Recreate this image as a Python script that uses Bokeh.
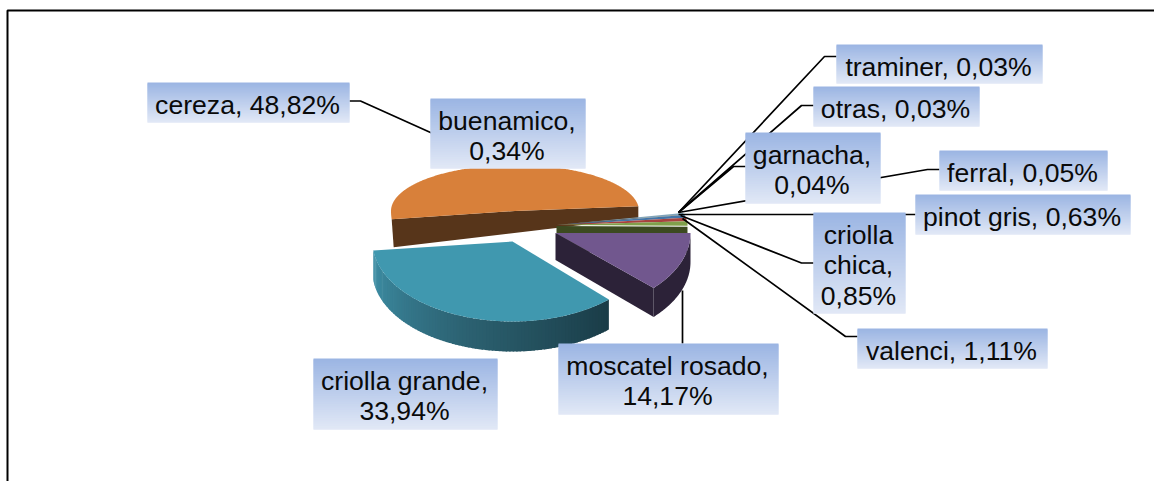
import numpy as np
from bokeh.plotting import figure
from bokeh.models import Range1d
from bokeh.core.properties import value
from bokeh.embed import file_html
from bokeh.resources import INLINE

# ---- data, clockwise from the big orange slice
names = ["cereza", "buenamico", "traminer", "otras", "garnacha", "ferral",
         "pinot gris", "criolla chica", "valenci", "moscatel rosado", "criolla grande"]
shares = [48.82, 0.34, 0.03, 0.03, 0.04, 0.05, 0.63, 0.85, 1.11, 14.17, 33.94]
top_colors = ["#D8803A", "#7FA4BC", "#7E3A38", "#6C8A3E", "#54426E", "#2F7285",
              "#4376A8", "#A8423F", "#80A04B", "#71578E", "#4098AF"]

# ---- layout of the perspective pie: name -> centre, radii, start angle, angular stretch
groups = [
    dict(members=["cereza"], cx=514.5, cy=210.5, rx=124, ryf=80, ryb=46, t0=174, k=1.024),
    dict(members=["buenamico", "traminer", "otras", "garnacha", "ferral", "pinot gris",
                  "criolla chica", "valenci"], cx=556, cy=224.5, rx=131, ryf=46, ryb=46, t0=345, k=1.45),
    dict(members=["moscatel rosado"], cx=555, cy=232.5, rx=135, ryf=80, ryb=46, t0=0, k=0.85),
    dict(members=["criolla grande"], cx=512, cy=241, rx=140, ryf=80, ryb=46, t0=46.5, k=1.04),
]

# ---- label boxes: left, right, top, bottom, lines
boxes = {
    "cereza": (147, 349, 82, 122, 1),
    "buenamico": (430, 585, 98, 168, 2),
    "traminer": (836, 1042, 44, 83, 1),
    "otras": (813, 979, 86, 126, 1),
    "garnacha": (745, 880, 132, 203, 2),
    "ferral": (939, 1107, 150, 190, 1),
    "pinot gris": (915, 1130, 194, 234, 1),
    "criolla chica": (813, 905, 212, 313, 3),
    "valenci": (857, 1047, 328, 368, 1),
    "moscatel rosado": (558, 778, 343, 414, 2),
    "criolla grande": (313, 497, 358, 429, 2),
}
line_breaks = {"criolla chica": ["criolla", "chica,"]}

leaders = [
    [(349, 100.5), (360, 100.5), (430, 132), (500, 164)],
    [(836, 56), (824, 56), (678, 212)],
    [(813, 105), (801, 105), (678, 212)],
    [(745, 166), (733, 166), (678, 212)],
    [(939, 169), (927, 169), (678, 212)],
    [(915, 214), (905, 214), (678, 214)],
    [(813, 262.5), (801, 262.5), (680, 215)],
    [(857, 336), (845, 336), (682, 218)],
    [(682, 343), (682, 290)],
]

p = figure(width=1154, height=481, x_range=Range1d(0, 1154), y_range=Range1d(481, 0),
           toolbar_location=None, output_backend="svg", min_border=0)
p.axis.visible = False
p.grid.visible = False
p.outline_line_color = None
p.background_fill_color = "white"
p.border_fill_color = "white"

# frame (left and top only)
p.line([7, 7, 1154], [481, 10, 10], line_color="black", line_width=2)


def lerp(c1, c2, f):
    a = np.array([int(c1[i:i + 2], 16) for i in (1, 3, 5)], float)
    b = np.array([int(c2[i:i + 2], 16) for i in (1, 3, 5)], float)
    r = a + (b - a) * f
    return "#%02x%02x%02x" % tuple(int(round(v)) for v in r)


def arc(g, t1, t2, n=None):
    n = n or max(4, int(abs(t2 - t1) * 2))
    t = np.radians(np.linspace(t1, t2, n))
    ry = np.where(np.sin(t) > 0, g["ryf"], g["ryb"])
    return g["cx"] + g["rx"] * np.cos(t), g["cy"] + ry * np.sin(t)


def spans(g):
    out, t = [], g["t0"]
    for m in g["members"]:
        d = shares[names.index(m)] * 3.6 * g["k"]
        out.append((m, t, t + d))
        t += d
    return out


def top_face(g, m, t1, t2):
    x, y = arc(g, t1, t2)
    p.patch(np.r_[g["cx"], x], np.r_[g["cy"], y], fill_color=top_colors[names.index(m)],
            line_color=None)


# cereza
g = groups[0]
(_, t1, t2), = spans(g)
xa, ya = arc(g, t1, t1, 2)
xb, yb = arc(g, t2, t2, 2)
p.patch([xa[0], g["cx"], xb[0], xb[0], xa[0] + 2],
        [ya[0], g["cy"], yb[0], yb[0] + 12, ya[0] + 28], fill_color="#57351A", line_color=None)
top_face(g, "cereza", t1, t2)

# small slices
g = groups[1]
sp = spans(g)
xb, yb = arc(g, sp[-1][2], sp[-1][2], 2)
p.patch([g["cx"], xb[0], xb[0], g["cx"]], [g["cy"] + 1, yb[0] + 1, yb[0] + 27, g["cy"] + 27],
        fill_color="#3C4A20", line_color=None)
for m, t1, t2 in sp:
    top_face(g, m, t1, t2)

# moscatel rosado
g = groups[2]
(_, t1, t2), = spans(g)
D = 29
x, y = arc(g, t1, t2)
p.patch(np.r_[x, x[::-1]], np.r_[y, y[::-1] + D], fill_color="#2C2238", line_color=None)
p.patch([g["cx"], x[-1], x[-1], g["cx"]], [g["cy"], y[-1], y[-1] + D, g["cy"] + D - 2],
        fill_color="#2C2238", line_color=None)
top_face(g, "moscatel rosado", t1, t2)

# criolla grande, with a shaded rim
g = groups[3]
(_, t1, t2), = spans(g)
D = 30
edges = np.linspace(t1, t2, 90)
for i in range(len(edges) - 1):
    xs, ys = arc(g, edges[i], edges[i + 1] + 0.6, 3)
    f = i / (len(edges) - 2)
    if f < 0.5:
        col = lerp("#1A3C47", "#2C6272", f / 0.5)
    else:
        col = lerp("#2C6272", "#3E8FA6", (f - 0.5) / 0.5)
    p.patch(np.r_[xs, xs[::-1]], np.r_[ys, ys[::-1] + D], fill_color=col, line_color=None)
top_face(g, "criolla grande", t1, t2)

# leader lines
for ln in leaders:
    p.line([a for a, _ in ln], [b for _, b in ln], line_color="black", line_width=1.7)

# label boxes with a vertical gradient (strips overlap so no seam shows)
for m in names:
    l, r, tp, bt, _ = boxes[m]
    ys = np.arange(tp, bt)
    cols = [lerp("#9BB5E3", "#E1E8F6", (v - tp) / max(1, bt - tp - 1)) for v in ys]
    p.quad(left=[l] * len(ys), right=[r] * len(ys), top=list(ys),
           bottom=[min(v + 2, bt) for v in ys], fill_color=cols, fill_alpha=1.0, line_color=None)

# label texts
for m, v in zip(names, shares):
    l, r, tp, bt, n = boxes[m]
    pct = f"{v:.2f}".replace(".", ",") + "%"
    if m in line_breaks:
        lines = line_breaks[m] + [pct]
    elif n == 2:
        lines = [m + ",", pct]
    else:
        lines = [f"{m}, {pct}"]
    for i, s in enumerate(lines):
        p.text([(l + r) / 2 - 1], [tp + 22 + 30.7 * i], text=[s], text_align="center",
               text_baseline="alphabetic", text_font=value("Liberation Sans"),
               text_font_size="26.6px", text_color="#0a0a0a")

open("out.html", "w").write(file_html(p, INLINE))
